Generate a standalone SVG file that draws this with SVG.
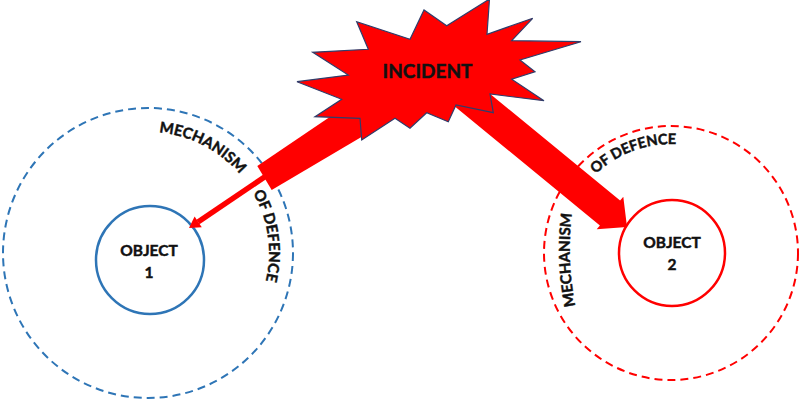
<svg xmlns="http://www.w3.org/2000/svg" width="799" height="401" viewBox="0 0 799 401">
  <style>
    .lbl { font-family: Lato, "Open Sans", "Liberation Sans", sans-serif; font-weight: bold; fill: #111; stroke: #111; stroke-width: 0.45; }
    .obj { font-size: 15.5px; text-anchor: middle; }
    .arc { font-size: 15px; }
    .ring-blue { fill: none; stroke: #2E75B6; stroke-width: 2; stroke-dasharray: 8 5; }
    .ring-red { fill: none; stroke: #FF0000; stroke-width: 2; stroke-dasharray: 8 5; }
    .red { fill: #FF0000; }
  </style>
  <defs>
    <!-- clockwise guide circles for curved labels -->
    <path id="guideL" d="M148 132 A121 121 0 1 1 148 374 A121 121 0 1 1 148 132"/>
    <path id="guideR" d="M562 253 A109 109 0 1 1 780 253 A109 109 0 1 1 562 253"/>
    <path id="guideR2" d="M576 309 A300 300 0 0 1 573 205"/>
  </defs>

  <rect width="799" height="401" fill="#fff"/>

  <!-- defence ring around object 1 -->
  <g id="defence1">
    <circle class="ring-blue" cx="148" cy="253" r="145"/>
    <text class="lbl arc"><textPath href="#guideL" startOffset="11">MECHANISM</textPath></text>
    <text class="lbl arc"><textPath href="#guideL" startOffset="127">OF DEFENCE</textPath></text>
  </g>

  <!-- defence ring around object 2 -->
  <g id="defence2">
    <circle class="ring-red" cx="671" cy="253" r="127"/>
    <text class="lbl arc" style="font-size:14.5px"><textPath href="#guideR" startOffset="88">OF DEFENCE</textPath></text>
    <text class="lbl arc"><textPath href="#guideR2" startOffset="3">MECHANISM</textPath></text>
  </g>

  <g id="object1">
    <circle cx="150" cy="260" r="54" fill="#fff" stroke="#2E75B6" stroke-width="2.5"/>
    <text class="lbl obj" x="149" y="256">OBJECT</text>
    <text class="lbl obj" x="149" y="278">1</text>
  </g>

  <g id="object2">
    <circle cx="672" cy="253" r="53" fill="#fff" stroke="#FF0000" stroke-width="2.5"/>
    <text class="lbl obj" x="672" y="248">OBJECT</text>
    <text class="lbl obj" x="672" y="270">2</text>
  </g>

  <!-- impact connectors -->
  <g id="connectors">
    <polygon class="red" points="257.3,166 271.7,190 380,126 370,89.7"/>
    <line x1="266" y1="176" x2="198" y2="222" stroke="#FF0000" stroke-width="5.5"/>
    <polygon class="red" points="189,228 201.8,227.3 194.6,216.5"/>
    <polygon class="red" points="450.1,61.1 620.1,200.6 623.3,196.8 627,227 596.7,229.2 599.9,225.4 429.9,85.9"/>
  </g>

  <g id="incident">
    <polygon fill="#FF0000" stroke="#2F3D6B" stroke-width="1.2" stroke-linejoin="miter"
      points="356.7,21.7 368.3,49.3 312.7,52.3 348.3,75 297,81.7 341.7,99.3 315,116.7 360,118.3 361.7,140 395,118.3 410,128.3 426.7,112.7 448.3,121.7 456,105 493.3,112.7 490,94 544,100.7 511.7,79.3 535,71.7 520,60 581,41.7 511.7,40.7 532.7,18.3 487,34.3 489.5,-1 446.7,25.7 424,10 410,39.3"/>
    <text class="lbl" x="427.5" y="78.3" font-size="19" text-anchor="middle">INCIDENT</text>
  </g>
</svg>
